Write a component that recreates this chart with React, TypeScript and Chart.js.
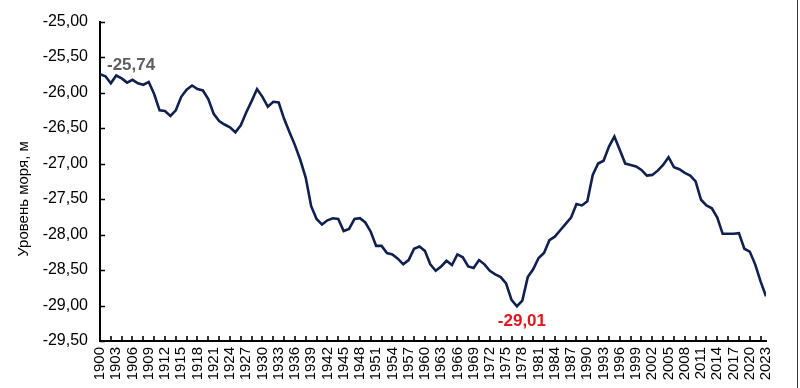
import { useEffect, useRef } from 'react';
import { Chart, registerables } from 'chart.js';

Chart.register(...registerables);

const years = [
  1900, 1901, 1902, 1903, 1904, 1905, 1906, 1907, 1908, 1909,
  1910, 1911, 1912, 1913, 1914, 1915, 1916, 1917, 1918, 1919,
  1920, 1921, 1922, 1923, 1924, 1925, 1926, 1927, 1928, 1929,
  1930, 1931, 1932, 1933, 1934, 1935, 1936, 1937, 1938, 1939,
  1940, 1941, 1942, 1943, 1944, 1945, 1946, 1947, 1948, 1949,
  1950, 1951, 1952, 1953, 1954, 1955, 1956, 1957, 1958, 1959,
  1960, 1961, 1962, 1963, 1964, 1965, 1966, 1967, 1968, 1969,
  1970, 1971, 1972, 1973, 1974, 1975, 1976, 1977, 1978, 1979,
  1980, 1981, 1982, 1983, 1984, 1985, 1986, 1987, 1988, 1989,
  1990, 1991, 1992, 1993, 1994, 1995, 1996, 1997, 1998, 1999,
  2000, 2001, 2002, 2003, 2004, 2005, 2006, 2007, 2008, 2009,
  2010, 2011, 2012, 2013, 2014, 2015, 2016, 2017, 2018, 2019,
  2020, 2021, 2022, 2023,
];

const levels = [
  -25.74, -25.77, -25.87, -25.76, -25.80, -25.86, -25.82, -25.87, -25.89, -25.85,
  -26.02, -26.25, -26.26, -26.33, -26.25, -26.06, -25.96, -25.90, -25.95, -25.97,
  -26.09, -26.30, -26.40, -26.45, -26.49, -26.56, -26.46, -26.28, -26.12, -25.95,
  -26.06, -26.20, -26.13, -26.14, -26.37, -26.56, -26.74, -26.95, -27.20, -27.60,
  -27.78, -27.86, -27.80, -27.77, -27.78, -27.95, -27.92, -27.78, -27.77, -27.83,
  -27.96, -28.16, -28.16, -28.26, -28.28, -28.34, -28.42, -28.36, -28.20, -28.17,
  -28.23, -28.42, -28.51, -28.45, -28.37, -28.43, -28.28, -28.32, -28.45, -28.47,
  -28.36, -28.42, -28.51, -28.56, -28.60, -28.69, -28.92, -29.01, -28.93, -28.60,
  -28.49, -28.33, -28.26, -28.08, -28.03, -27.94, -27.85, -27.76, -27.57, -27.59,
  -27.53, -27.16, -27.00, -26.96, -26.76, -26.62, -26.81, -27.00, -27.02, -27.04,
  -27.09, -27.17, -27.16, -27.10, -27.02, -26.91, -27.05, -27.08, -27.13, -27.17,
  -27.25, -27.51, -27.59, -27.63, -27.76, -27.99, -27.99, -27.99, -27.98, -28.20,
  -28.24, -28.42, -28.66, -28.87,
];

const yAxisMin = -29.5;
const yAxisMax = -25;
const yAxisStep = 0.5;
const xLabelStep = 3;
const xTickMarkStep = 2;

const annotatedYears = [1900, 1977];
const annotationTexts = ['-25,74', '-29,01'];

const yTitle = 'Уровень моря, м';

const FONT = '"Liberation Sans", Arial, Helvetica, sans-serif';

const fmt = (v: number) => v.toFixed(2).replace('.', ',');

const decorPlugin = {
  id: 'decor',
  afterDraw(chart: any) {
    const { ctx, chartArea, scales } = chart;
    const xs = scales.x;
    const ys = scales.y;
    ctx.save();
    // inside tick marks
    ctx.strokeStyle = '#000';
    ctx.lineWidth = 1.6;
    ctx.beginPath();
    ys.ticks.forEach((t: any) => {
      const py = Math.round(ys.getPixelForValue(t.value)) + 0.5;
      ctx.moveTo(chartArea.left, py);
      ctx.lineTo(chartArea.left + 5, py);
    });
    years.forEach((yr) => {
      if ((yr - years[0]) % xTickMarkStep === 0 && yr !== years[0]) {
        const px = Math.round(xs.getPixelForValue(yr));
        ctx.moveTo(px, chartArea.bottom);
        ctx.lineTo(px, chartArea.bottom - 5);
      }
    });
    ctx.stroke();

    // annotations
    const meta = chart.getDatasetMeta(0);
    ctx.font = `bold 17px ${FONT}`;
    ctx.textBaseline = 'middle';
    annotatedYears.forEach((yr, i) => {
      const el = meta.data[years.indexOf(yr)];
      if (!el) return;
      if (i === 0) {
        ctx.fillStyle = '#5f5f5f';
        ctx.textAlign = 'left';
        ctx.fillText(annotationTexts[i], el.x + 7, el.y - 9);
      } else {
        ctx.fillStyle = '#e3141c';
        ctx.textAlign = 'center';
        ctx.fillText(annotationTexts[i], el.x + 5, el.y + 15);
      }
    });

    // y axis title
    ctx.fillStyle = '#000';
    ctx.font = `15px ${FONT}`;
    ctx.textAlign = 'center';
    ctx.textBaseline = 'middle';
    ctx.translate(24, 199);
    ctx.rotate(-Math.PI / 2);
    ctx.fillText(yTitle, 0, 0);
    ctx.restore();

    // right border
    ctx.save();
    ctx.strokeStyle = '#333';
    ctx.lineWidth = 1;
    ctx.beginPath();
    ctx.moveTo(797.5, 0);
    ctx.lineTo(797.5, chart.height);
    ctx.stroke();
    ctx.restore();
  },
};

export default function App() {
  const ref = useRef<HTMLCanvasElement>(null);

  useEffect(() => {
    document.body.style.margin = '0';
    document.body.style.background = '#fff';
    if (!ref.current) return;
    const chart = new Chart(ref.current, {
      type: 'line',
      data: {
        datasets: [
          {
            data: years.map((yr, i) => ({ x: yr, y: levels[i] })),
            borderColor: '#10214f',
            borderWidth: 2.6,
            pointRadius: 0,
            tension: 0,
            fill: false,
          },
        ],
      },
      options: {
        animation: false,
        responsive: false,
        maintainAspectRatio: false,
        layout: { padding: { top: 16, right: 34, left: 0, bottom: 0 } },
        plugins: {
          legend: { display: false },
          tooltip: { enabled: false },
        },
        scales: {
          x: {
            type: 'linear',
            min: years[0],
            max: years[years.length - 1],
            grid: { display: false, drawTicks: false },
            border: { display: true, color: '#000', width: 2 },
            ticks: {
              stepSize: xLabelStep,
              autoSkip: false,
              minRotation: 90,
              maxRotation: 90,
              padding: 6,
              color: '#000',
              font: { family: FONT, size: 15 },
              callback: (v: any) => String(v),
            },
            afterFit: (s: any) => {
              s.height = 47;
            },
          },
          y: {
            type: 'linear',
            min: yAxisMin,
            max: yAxisMax,
            grid: { display: false, drawTicks: false },
            border: { display: true, color: '#000', width: 2 },
            ticks: {
              stepSize: yAxisStep,
              padding: 12,
              color: '#000',
              font: { family: FONT, size: 16 },
              callback: (v: any) => fmt(Number(v)),
            },
            afterFit: (s: any) => {
              s.width = 100;
            },
          },
        },
      },
      plugins: [decorPlugin],
    });
    return () => chart.destroy();
  }, []);

  return <canvas ref={ref} width={800} height={388} style={{ display: 'block' }} />;
}
